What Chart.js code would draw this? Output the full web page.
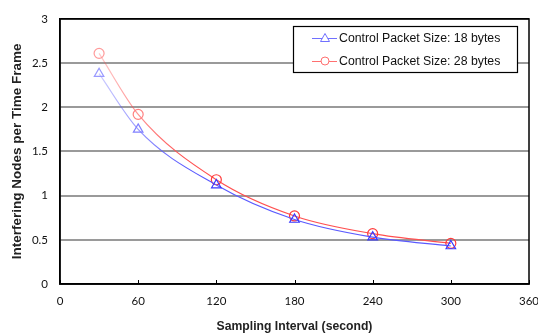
<!DOCTYPE html>
<html><head><meta charset="utf-8">
<script src="https://cdn.jsdelivr.net/npm/chart.js@4/dist/chart.umd.min.js"></script>
<style>html,body{margin:0;padding:0;background:#fff}#wrap{width:538px;height:336px}</style>
</head><body><div id="wrap"><canvas id="c" width="538" height="336"></canvas></div>
<script>
const intervals = [30, 60, 120, 180, 240, 300];
const size18 = [2.38, 1.75, 1.12, 0.73, 0.53, 0.43];
const size28 = [2.61, 1.92, 1.18, 0.77, 0.57, 0.46];
const seriesLabels = ['Control Packet Size: 18 bytes', 'Control Packet Size: 28 bytes'];
const xTicks = [0, 60, 120, 180, 240, 300, 360];
const yTicks = [0, 0.5, 1, 1.5, 2, 2.5, 3];

function fadeColor(rgb) {
  return function (ctx) {
    const chart = ctx.chart;
    if (!chart.chartArea || !chart.scales.x) return 'rgb(' + rgb + ')';
    const xs = chart.scales.x;
    const g = chart.ctx.createLinearGradient(xs.getPixelForValue(30), 0, xs.getPixelForValue(95), 0);
    g.addColorStop(0, 'rgba(' + rgb + ',0.3)');
    g.addColorStop(1, 'rgba(' + rgb + ',1)');
    return g;
  };
}

const framePlugin = {
  id: 'frame',
  afterDraw(chart) {
    const {ctx, chartArea: a, scales} = chart;
    ctx.save();
    ctx.strokeStyle = '#000';
    ctx.lineWidth = 1.5;
    ctx.strokeRect(a.left, a.top, a.right - a.left, a.bottom - a.top);
    ctx.lineWidth = 1;
    xTicks.forEach(v => {
      const px = Math.round(scales.x.getPixelForValue(v)) + 0.5;
      ctx.beginPath(); ctx.moveTo(px, a.bottom); ctx.lineTo(px, a.bottom - 4); ctx.stroke();
    });
    // legend box
    const bx = 293, by = 26, bw = 224, bh = 46;
    ctx.fillStyle = '#fff';
    ctx.fillRect(bx, by, bw, bh);
    ctx.strokeStyle = '#000';
    ctx.lineWidth = 1.2;
    ctx.strokeRect(bx + 0.5, by + 0.5, bw, bh);
    const rows = [38, 61];
    chart.data.datasets.forEach((ds, i) => {
      const y = rows[i];
      const col = ds.legendColor;
      ctx.strokeStyle = col; ctx.lineWidth = 1;
      ctx.beginPath(); ctx.moveTo(312, y + 0.5); ctx.lineTo(337, y + 0.5); ctx.stroke();
      ctx.fillStyle = '#fff';
      ctx.beginPath();
      if (ds.pointStyle === 'triangle') {
        ctx.moveTo(325, y - 4.5); ctx.lineTo(329.5, y + 3.5); ctx.lineTo(320.5, y + 3.5); ctx.closePath();
      } else {
        ctx.arc(325, y, 4, 0, Math.PI * 2);
      }
      ctx.fill(); ctx.stroke();
      ctx.fillStyle = '#111';
      ctx.font = '12.3px "Liberation Sans", Arial, sans-serif';
      ctx.textBaseline = 'middle';
      ctx.textAlign = 'left';
      ctx.fillText(ds.label, 339, y + 1);
    });
    ctx.restore();
  }
};

new Chart(document.getElementById('c'), {
  type: 'line',
  data: {
    datasets: [
      {
        label: seriesLabels[0],
        data: intervals.map((x, i) => ({x, y: size18[i]})),
        borderColor: fadeColor('90,90,255'),
        legendColor: '#7070ff',
        borderWidth: 1.2,
        pointStyle: 'triangle',
        pointRadius: 5.5,
        pointBorderWidth: 1.2,
        pointBorderColor: ['#9a9aff', '#8080ff', '#3a3aff', '#3a3aff', '#3a3aff', '#3a3aff'],
        pointBackgroundColor: 'rgba(255,255,255,0)',
        cubicInterpolationMode: 'monotone',
        fill: false
      },
      {
        label: seriesLabels[1],
        data: intervals.map((x, i) => ({x, y: size28[i]})),
        borderColor: fadeColor('255,80,80'),
        legendColor: '#ff7070',
        borderWidth: 1.2,
        pointStyle: 'circle',
        pointRadius: 5,
        pointBorderWidth: 1.2,
        pointBorderColor: ['#ff9a9a', '#ff8080', '#ff3a3a', '#ff3a3a', '#ff3a3a', '#ff3a3a'],
        pointBackgroundColor: 'rgba(255,255,255,0)',
        cubicInterpolationMode: 'monotone',
        fill: false
      }
    ]
  },
  options: {
    responsive: false,
    animation: false,
    devicePixelRatio: 1,
    layout: {padding: {top: 16, right: 9, left: 0, bottom: 0}},
    plugins: {legend: {display: false}, tooltip: {enabled: false}},
    scales: {
      x: {
        type: 'linear',
        min: 0, max: 360,
        afterBuildTicks: s => { s.ticks = xTicks.map(v => ({value: v})); },
        afterFit: s => { s.height = 52; s.paddingRight = 0; s.paddingLeft = 0; },
        grid: {display: false, drawTicks: false},
        border: {display: true, color: '#000', width: 1.5},
        ticks: {
          autoSkip: false, maxRotation: 0, padding: 10, color: '#111',
          font: {family: 'Lato, "Open Sans", sans-serif', size: 11.5},
          callback: v => String(v)
        },
        title: {
          display: true, text: 'Sampling Interval (second)', color: '#222',
          font: {family: '"Liberation Sans", Arial, sans-serif', size: 12.2, weight: 'bold'},
          padding: {top: 0, bottom: 2}
        }
      },
      y: {
        min: 0, max: 3,
        afterBuildTicks: s => { s.ticks = yTicks.map(v => ({value: v})); },
        afterFit: s => { s.width = 60; },
        grid: {
          drawTicks: false,
          color: c => (c.tick && (c.tick.value === 0 || c.tick.value === 3)) ? '#000' : '#9a9a9a',
          lineWidth: c => (c.tick && (c.tick.value === 0 || c.tick.value === 3)) ? 1.5 : 2
        },
        border: {display: true, color: '#000', width: 1.5},
        ticks: {
          padding: 12, color: '#111',
          font: {family: 'Lato, "Open Sans", sans-serif', size: 11.5},
          callback: v => String(v)
        },
        title: {
          display: true, text: 'Interfering Nodes per Time Frame', color: '#222',
          font: {family: '"Liberation Sans", Arial, sans-serif', size: 13.5, weight: 'bold'},
          padding: {top: 9, bottom: 0}
        }
      }
    }
  },
  plugins: [framePlugin]
});
</script>
</body></html>
